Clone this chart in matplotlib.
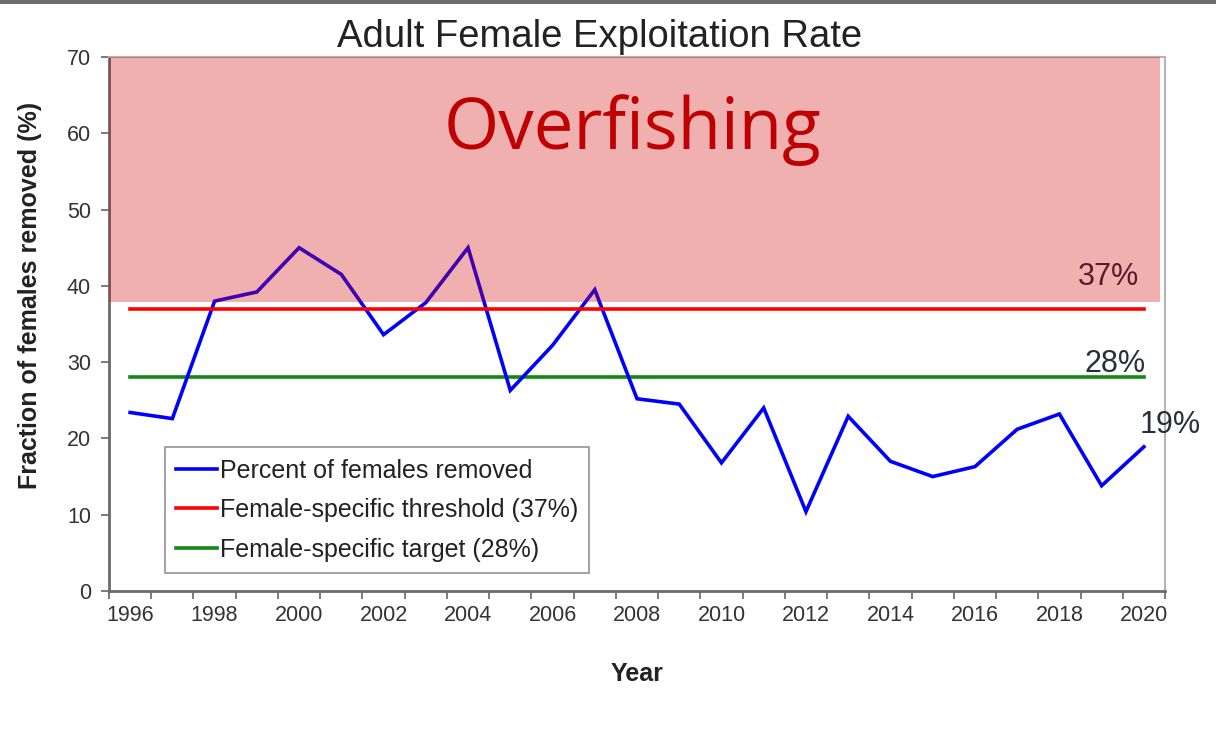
import numpy as np
import matplotlib.pyplot as plt
from matplotlib.lines import Line2D

years = list(range(1996, 2021))
pct_removed = [23.4, 22.6, 38.0, 39.2, 45.0, 41.5, 33.6, 37.8, 45.0, 26.3,
               32.2, 39.5, 25.2, 24.5, 16.8, 24.0, 10.4, 22.9, 17.0, 15.0,
               16.3, 21.2, 23.2, 13.8, 18.9]
threshold = 37
target = 28
overfishing_floor = 37.9
legend_labels = ["Percent of females removed",
                 "Female-specific threshold (37%)",
                 "Female-specific target (28%)"]

plt.rcParams['font.family'] = ['Liberation Sans', 'DejaVu Sans']

fig = plt.figure(figsize=(12.16, 7.35), dpi=100)
ax = fig.add_axes([109 / 1216, 1 - 591 / 735, (1165 - 109) / 1216, (591 - 57) / 735])

# screenshot border line at the very top
fig.add_artist(plt.Rectangle((0, 1 - 4 / 735), 1, 4 / 735, transform=fig.transFigure,
                             color='#6e6e6e', lw=0))

ax.plot(years, pct_removed, color='#0000ff', lw=2.6, zorder=3, solid_joinstyle='miter')
ax.plot([years[0], years[-1]], [threshold, threshold], color='#ff0000', lw=2.6, zorder=4)
ax.plot([years[0], years[-1]], [target, target], color='#118a11', lw=2.6, zorder=2)

# translucent overfishing zone drawn over the series
ax.axhspan(overfishing_floor, 70, xmin=0, xmax=0.995, color=(0.81, 0.0, 0.0),
           alpha=0.31, lw=0, zorder=5)

ax.set_xlim(1995.5, 2020.5)
ax.set_ylim(0, 70)
ax.set_yticks(np.arange(0, 71, 10))
ax.set_xticks(np.arange(1995.5, 2021, 1))
ax.set_xticklabels([])
ax.set_xticks(years[::2], minor=True)
ax.set_xticklabels([str(y) for y in years[::2]], minor=True)
ax.tick_params(axis='x', which='minor', length=0, pad=10, labelsize=15.5, labelcolor='#333333')
ax.tick_params(axis='x', which='major', length=6, width=1.2, color='#666666')
ax.tick_params(axis='y', length=6, width=1.2, color='#666666', labelsize=15.5,
               labelcolor='#333333', pad=7)

for s in ['left', 'bottom']:
    ax.spines[s].set_color('#6a6a6a')
    ax.spines[s].set_linewidth(2)
for s in ['top', 'right']:
    ax.spines[s].set_color('#b4b4b4')
    ax.spines[s].set_linewidth(1.5)

fig.text(600 / 1216, 1 - 37 / 735, "Adult Female Exploitation Rate", fontsize=27.5,
         color='#222222', ha='center', va='center')
ax.set_ylabel("Fraction of females removed (%)", fontsize=18, fontweight='bold',
              color='#222222')
ax.yaxis.set_label_coords(-0.063, 0.554)
ax.set_xlabel("Year", fontsize=18, fontweight='bold', color='#222222', labelpad=26)

ax.text(2007.9, 60.4, "Overfishing", fontsize=51, color='#c00000', ha='center',
        va='center', family=['Open Sans', 'DejaVu Sans'], zorder=6)
ax.text(2019.17, 41.2, "37%", fontsize=22, color='#5b1a2a', ha='center', va='center', zorder=6)
ax.text(2019.32, 29.8, "28%", fontsize=22, color='#2a2e38', ha='center', va='center', zorder=6)
ax.text(2020.62, 21.8, "19%", fontsize=22, color='#2a2e38', ha='center', va='center',
        clip_on=False, zorder=6)

handles = [Line2D([], [], color='#0000ff', lw=2.6),
           Line2D([], [], color='#ff0000', lw=2.6),
           Line2D([], [], color='#118a11', lw=2.6)]
leg = ax.legend(handles, legend_labels, loc='lower left', bbox_to_anchor=(0.053, 0.034),
                fontsize=18, frameon=True, fancybox=False, handlelength=1.65,
                handletextpad=0.1, borderpad=0.45, labelspacing=0.62, borderaxespad=0)
leg.get_frame().set_edgecolor('#777777')
leg.get_frame().set_linewidth(1.2)
for t in leg.get_texts():
    t.set_color('#222222')

fig.savefig("out.png", dpi=100)
